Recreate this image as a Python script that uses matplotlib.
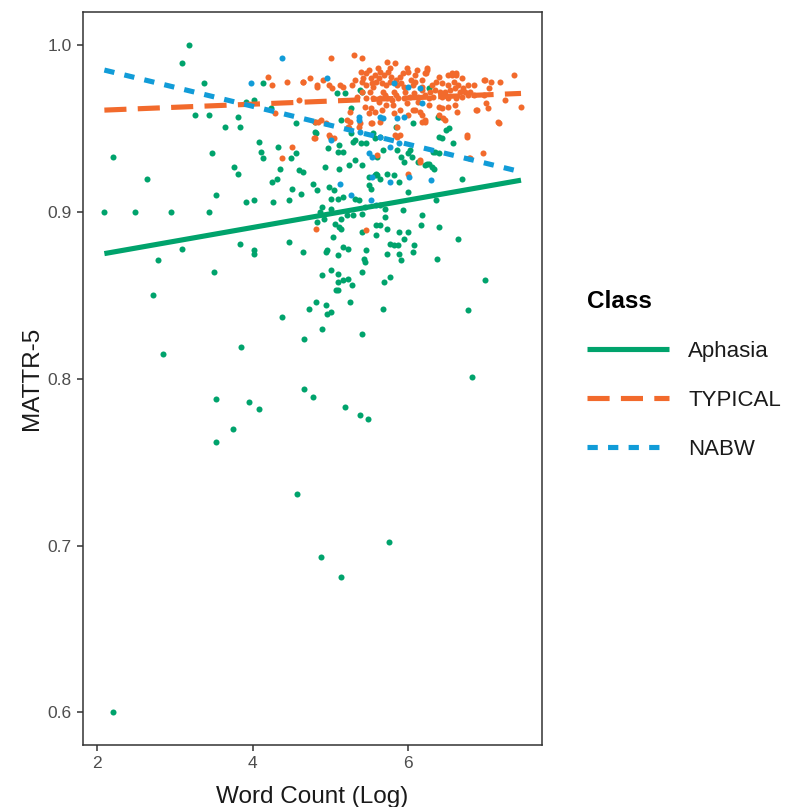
import matplotlib
matplotlib.use("Agg")
import matplotlib.pyplot as plt
from matplotlib.lines import Line2D

plt.rcParams['font.family'] = ['Liberation Sans', 'DejaVu Sans']

# ---- data (log word count, MATTR-5) ----
aphasia_x = [3.18, 3.09, 3.37, 2.20, 2.64, 3.26, 3.44, 3.64, 3.47, 3.52, 3.81, 3.83, 3.91, 4.02, 4.13, 4.23,
             4.08, 4.10, 4.13, 3.76, 3.81, 4.33, 4.35, 4.25, 4.31, 4.49, 4.56, 4.59, 4.56, 4.50, 4.62, 4.77,
             4.83, 4.80, 3.91, 4.02, 4.26, 4.47,
             2.09, 2.49, 2.95, 3.44, 2.78, 3.09, 3.83, 4.01, 4.02, 4.47, 4.65, 3.50, 2.71, 2.84, 3.85, 4.38,
             4.72, 4.81, 4.66, 4.66, 4.82, 4.78, 3.53,
             3.95, 4.08, 3.74, 3.53, 4.57, 5.18, 5.38, 5.48, 5.75, 4.88, 5.13, 2.20,
             6.36, 5.93, 6.18, 6.16, 6.40, 6.64, 6.37, 6.99, 6.77, 6.82, 5.70, 5.58, 5.64, 5.72, 5.58, 5.88,
             6.00, 5.94, 6.07, 6.06, 5.90, 5.88, 5.76, 5.81, 5.87, 5.73, 5.76, 5.69, 5.68, 5.45, 5.43, 5.44,
             5.40, 5.41, 5.25, 5.40, 5.03, 5.06, 5.11, 5.13, 5.14, 5.29, 5.41, 5.21, 4.92, 4.87, 4.89, 5.01,
             4.95, 4.94, 5.09, 5.16, 5.23, 5.01, 4.89, 5.10, 5.09, 5.16, 5.23, 5.28, 5.07, 5.09, 4.94, 4.96,
             5.01, 4.89,
             4.80, 4.81, 5.11, 5.16, 5.10, 4.97, 5.26, 5.31, 5.29, 5.39, 5.45, 5.57, 5.67, 5.60, 5.86, 5.99,
             6.05, 4.93, 5.11, 5.24, 5.32, 5.41, 5.58, 5.57, 5.60, 5.49, 5.73, 5.81, 5.88, 5.64, 5.90, 5.94,
             6.00, 6.13, 4.65, 4.98, 5.04, 5.01, 5.10, 5.16, 5.31, 5.36, 5.50, 5.52, 5.44, 5.64, 5.70,
             5.08, 5.19, 5.38, 5.40, 5.26, 5.13, 5.55, 5.64, 5.84, 6.06, 6.39, 6.43, 6.39, 6.48, 6.52, 6.58,
             6.34, 6.40, 6.24, 6.69, 6.02,
             6.32, 6.21, 6.27, 6.30, 6.33, 6.38, 6.26]
aphasia_y = [1.000, 0.989, 0.977, 0.933, 0.920, 0.958, 0.958, 0.951, 0.935, 0.910, 0.957, 0.951, 0.966, 0.967, 0.977, 0.962,
             0.942, 0.936, 0.932, 0.927, 0.923, 0.939, 0.926, 0.918, 0.920, 0.932, 0.935, 0.925, 0.953, 0.914, 0.911, 0.917,
             0.913, 0.954, 0.906, 0.907, 0.906, 0.907,
             0.900, 0.900, 0.900, 0.900, 0.871, 0.878, 0.881, 0.877, 0.875, 0.882, 0.876, 0.864, 0.850, 0.815, 0.819, 0.837,
             0.842, 0.846, 0.824, 0.794, 0.894, 0.789, 0.788,
             0.786, 0.782, 0.770, 0.762, 0.731, 0.783, 0.778, 0.776, 0.702, 0.693, 0.681, 0.600,
             0.907, 0.901, 0.898, 0.892, 0.891, 0.884, 0.872, 0.859, 0.841, 0.801, 0.897, 0.892, 0.892, 0.890, 0.886, 0.888,
             0.888, 0.884, 0.880, 0.876, 0.871, 0.875, 0.881, 0.880, 0.880, 0.875, 0.861, 0.858, 0.842, 0.877, 0.872, 0.870,
             0.864, 0.827, 0.846, 0.888, 0.885, 0.893, 0.891, 0.890, 0.896, 0.898, 0.899, 0.898, 0.896, 0.900, 0.903, 0.902,
             0.877, 0.876, 0.874, 0.879, 0.878, 0.865, 0.862, 0.863, 0.858, 0.859, 0.860, 0.856, 0.853, 0.853, 0.844, 0.839,
             0.840, 0.830,
             0.948, 0.947, 0.940, 0.936, 0.936, 0.938, 0.947, 0.943, 0.942, 0.941, 0.941, 0.944, 0.937, 0.933, 0.937, 0.935,
             0.933, 0.927, 0.926, 0.928, 0.931, 0.928, 0.923, 0.922, 0.922, 0.921, 0.923, 0.922, 0.918, 0.920, 0.933, 0.930,
             0.912, 0.930, 0.924, 0.915, 0.913, 0.908, 0.908, 0.909, 0.908, 0.907, 0.916, 0.914, 0.903, 0.904, 0.902,
             0.971, 0.971, 0.973, 0.972, 0.962, 0.955, 0.947, 0.945, 0.951, 0.953, 0.957, 0.944, 0.945, 0.949, 0.950, 0.941,
             0.936, 0.935, 0.929, 0.920, 0.937,
             0.936, 0.928, 0.929, 0.927, 0.926, 0.957, 0.974]

typical_x = [4.20, 4.25, 4.44, 4.64, 4.82, 4.59, 4.28, 4.79, 4.51, 4.37,
             4.88, 4.94, 4.99, 5.04, 5.23, 5.25, 5.52, 5.85, 5.85, 5.89, 5.60, 6.15, 5.99, 6.75, 6.96, 6.78,
             7.17, 7.45, 7.36, 6.97, 7.07, 7.18, 7.00, 7.03, 6.88, 4.81, 5.45,
             5.01, 5.30, 5.41, 4.65, 4.73, 4.82, 4.90, 4.98, 5.02, 5.12, 5.16, 5.28, 5.39, 5.42, 5.46, 5.52,
             5.57, 5.61, 5.64, 5.73, 5.74, 5.83, 5.98, 6.00, 6.09, 5.89, 5.40, 5.46, 5.53, 5.59, 5.66, 5.71,
             5.76, 5.86, 5.91, 6.06, 5.46, 5.55, 5.64, 5.72, 5.79, 5.87, 5.94, 6.02, 5.40, 5.51, 5.68, 5.81,
             5.96, 5.25, 5.21, 5.44, 5.49, 5.57, 5.66, 5.71, 5.80, 5.81, 5.89, 5.99, 6.06, 6.15, 4.80,
             6.11, 6.24, 6.22, 6.39, 6.51, 6.56, 6.61, 6.69, 6.77, 6.84, 6.09, 6.17, 6.30, 6.35, 6.43, 6.51,
             6.59, 6.64, 6.71, 6.17, 6.28, 6.34, 6.41, 6.47, 6.54, 6.60, 6.66, 6.73, 6.79, 6.85, 6.12, 6.21,
             6.32, 6.43, 6.51, 6.62, 6.69, 6.77, 6.26, 6.39, 6.43, 6.51, 6.60, 6.63, 6.13, 6.09, 6.17, 6.21,
             6.45, 6.39, 6.87, 6.99, 7.04, 6.98, 7.24, 7.16,
             4.80, 4.98, 5.24, 5.38, 5.37, 5.53, 5.64, 5.83, 4.84,
             6.17, 6.21, 6.47, 6.75, 6.79, 6.15, 6.24, 6.23, 6.56, 6.62,
             5.50, 5.55, 5.62, 5.69, 5.78, 5.84, 5.93, 6.04, 5.70, 5.62, 5.84, 5.98, 6.07, 5.52, 5.34, 5.31,
             5.95, 5.77, 6.18, 6.26]
typical_y = [0.981, 0.976, 0.978, 0.978, 0.975, 0.967, 0.959, 0.944, 0.939, 0.932,
             0.955, 0.953, 0.945, 0.944, 0.951, 0.954, 0.953, 0.951, 0.945, 0.946, 0.934, 0.931, 0.923, 0.945, 0.935, 0.932,
             0.953, 0.963, 0.982, 0.979, 0.978, 0.978, 0.965, 0.962, 0.961, 0.890, 0.889,
             0.992, 0.994, 0.992, 0.978, 0.980, 0.976, 0.979, 0.976, 0.974, 0.976, 0.975, 0.976, 0.984, 0.980, 0.983, 0.980,
             0.982, 0.986, 0.984, 0.990, 0.984, 0.989, 0.986, 0.984, 0.982, 0.981, 0.978, 0.976, 0.977, 0.978, 0.977, 0.976,
             0.978, 0.976, 0.977, 0.976, 0.968, 0.968, 0.968, 0.968, 0.967, 0.968, 0.968, 0.969, 0.972, 0.972, 0.972, 0.972,
             0.972, 0.960, 0.955, 0.963, 0.959, 0.960, 0.961, 0.964, 0.964, 0.959, 0.961, 0.958, 0.961, 0.960, 0.954,
             0.985, 0.986, 0.983, 0.981, 0.982, 0.982, 0.982, 0.980, 0.976, 0.976, 0.978, 0.979, 0.976, 0.978, 0.977, 0.976,
             0.978, 0.976, 0.974, 0.973, 0.972, 0.973, 0.972, 0.972, 0.973, 0.974, 0.972, 0.972, 0.972, 0.970, 0.969, 0.970,
             0.969, 0.969, 0.968, 0.968, 0.969, 0.970, 0.964, 0.963, 0.962, 0.963, 0.964, 0.960, 0.966, 0.961, 0.958, 0.955,
             0.956, 0.958, 0.961, 0.979, 0.974, 0.970, 0.967, 0.954,
             0.944, 0.946, 0.950, 0.953, 0.951, 0.953, 0.954, 0.946, 0.954,
             0.954, 0.954, 0.955, 0.946, 0.932, 0.930, 0.985, 0.983, 0.983, 0.983,
             0.985, 0.975, 0.980, 0.982, 0.981, 0.979, 0.983, 0.979, 0.970, 0.966, 0.970, 0.965, 0.971, 0.962, 0.969, 0.979,
             0.975, 0.986, 0.975, 0.968]

nabw_x = [4.37, 3.97, 4.95, 5.82, 6.00, 6.15, 6.18, 5.37, 5.36, 5.64, 5.68, 5.85, 5.94, 5.38, 5.01, 5.63,
          5.76, 5.49, 5.53, 6.01, 5.76, 6.29, 5.12, 5.26, 5.52, 5.58, 5.88, 5.53]
nabw_y = [0.992, 0.977, 0.980, 0.977, 0.975, 0.974, 0.965, 0.957, 0.955, 0.957, 0.956, 0.956, 0.957, 0.948, 0.943, 0.945,
          0.939, 0.935, 0.933, 0.921, 0.918, 0.919, 0.917, 0.910, 0.907, 0.904, 0.941, 0.921]

# fitted regression lines (endpoints)
fit_x = [2.09, 7.45]
aphasia_fit = [0.875, 0.919]
typical_fit = [0.961, 0.971]
nabw_fit = [0.985, 0.924]

classes = ['Aphasia', 'TYPICAL', 'NABW']
colors = {'Aphasia': '#00A36C', 'TYPICAL': '#F26A2C', 'NABW': '#119CD8'}

fig = plt.figure(figsize=(7.97, 8.07), dpi=100)
ax = fig.add_axes([83/797, 1 - 745/807, (542-83)/797, (745-12)/807])

pts = {'Aphasia': (aphasia_x, aphasia_y), 'TYPICAL': (typical_x, typical_y), 'NABW': (nabw_x, nabw_y)}
for c in classes:
    x, y = pts[c]
    ax.scatter(x, y, s=19, color=colors[c], linewidths=0, zorder=2)

lw = 3.7
styles = {'Aphasia': dict(linestyle='-'),
          'TYPICAL': dict(linestyle=(0, (4.3, 2.2))),
          'NABW': dict(linestyle=(0, (2.0, 2.0)))}
fits = {'Aphasia': aphasia_fit, 'TYPICAL': typical_fit, 'NABW': nabw_fit}
handles = []
for c in classes:
    ax.plot(fit_x, fits[c], color=colors[c], lw=lw, solid_capstyle='butt', dash_capstyle='butt', zorder=3, **styles[c])
    handles.append(Line2D([0], [0], color=colors[c], lw=lw, solid_capstyle='butt', dash_capstyle='butt', **styles[c]))

ax.set_xlim(1.815, 7.72)
ax.set_ylim(0.5805, 1.0198)
ax.set_xticks([2, 4, 6])
ax.set_yticks([0.6, 0.7, 0.8, 0.9, 1.0])
ax.set_yticklabels(['0.6', '0.7', '0.8', '0.9', '1.0'])
ax.tick_params(axis='both', labelsize=12.5, labelcolor='#4D4D4D', color='#333333', length=4, width=1.1, pad=4)
for s in ax.spines.values():
    s.set_color('#333333')
    s.set_linewidth(1.1)

ax.set_xlabel('Word Count (Log)', fontsize=17.5, color='#1a1a1a', labelpad=11)
ax.set_ylabel('MATTR-5', fontsize=17.5, color='#1a1a1a', labelpad=3)

leg = ax.legend(handles, classes, title='Class', frameon=False, loc='center left',
                bbox_to_anchor=(1.055, 0.505), fontsize=16, title_fontsize=17.5,
                handlelength=3.7, handletextpad=0.85, labelspacing=1.27, alignment='left')
leg.get_title().set_fontweight('bold')
for t in leg.get_texts():
    t.set_color('#1a1a1a')

fig.savefig('out.png', dpi=100)
